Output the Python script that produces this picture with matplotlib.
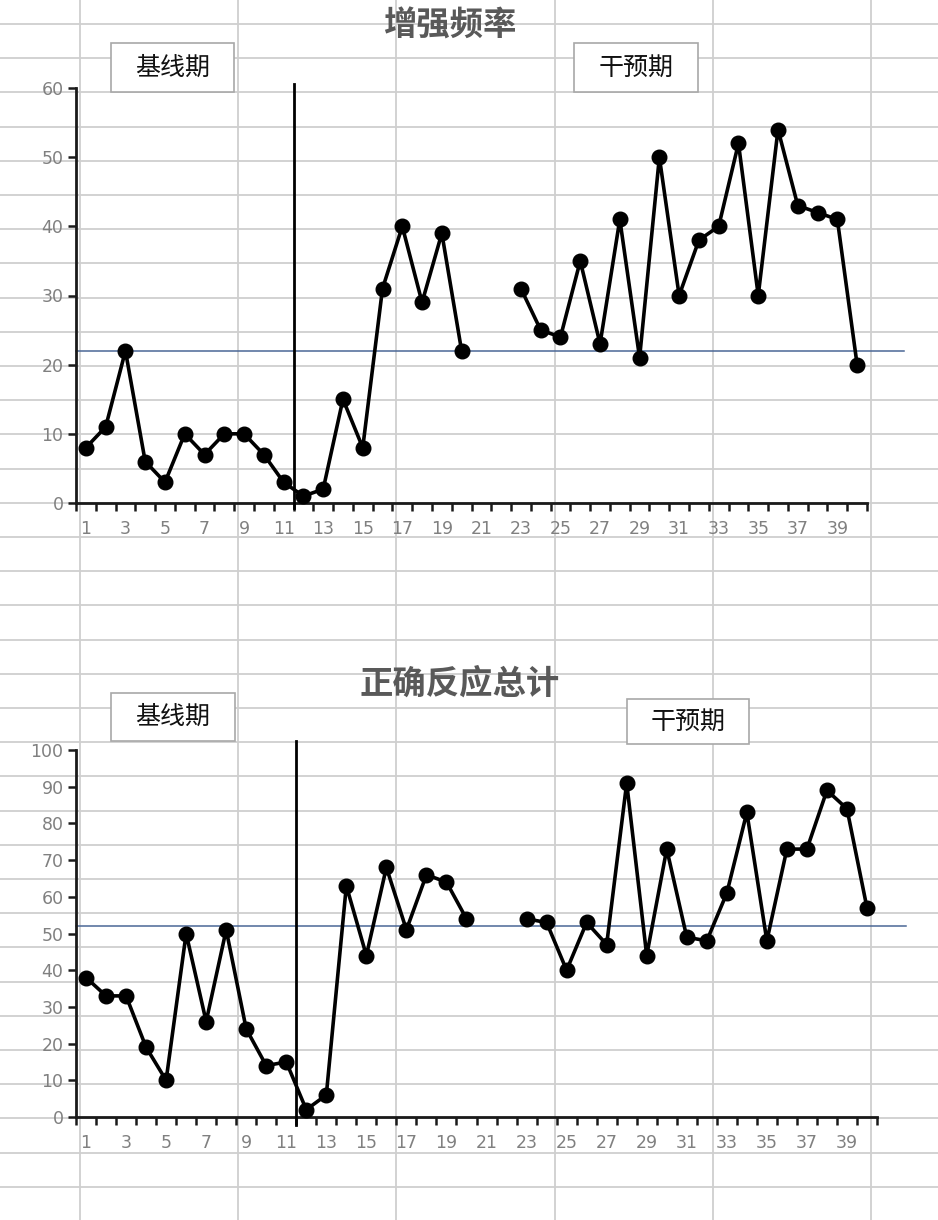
import numpy as np
import matplotlib.pyplot as plt
from matplotlib.patches import Rectangle

plt.rcParams['font.family'] = ['Noto Sans CJK SC', 'DejaVu Sans']

# sessions 1..40, sessions 21-22 missing
sessions = np.arange(1, 41)
freq = [8, 11, 22, 6, 3, 10, 7, 10, 10, 7, 3,
        1, 2, 15, 8, 31, 40, 29, 39, 22, np.nan, np.nan,
        31, 25, 24, 35, 23, 41, 21, 50, 30, 38, 40, 52, 30, 54, 43, 42, 41, 20]
correct = [38, 33, 33, 19, 10, 50, 26, 51, 24, 14, 15,
           2, 6, 63, 44, 68, 51, 66, 64, 54, np.nan, np.nan,
           54, 53, 40, 53, 47, 91, 44, 73, 49, 48, 61, 83, 48, 73, 73, 89, 84, 57]
phase_change = 11.5
freq_level = 22
correct_level = 52

titles = ['增强频率', '正确反应总计']
phase_names = ['基线期', '干预期']

W, H = 938, 1220
fig = plt.figure(figsize=(W / 100, H / 100), dpi=100)

# spreadsheet grid in the background (pixel coords)
bg = fig.add_axes([0, 0, 1, 1])
bg.set_xlim(0, W)
bg.set_ylim(H, 0)
bg.axis('off')
for yy in np.arange(24, H, 34.2):
    bg.axhline(yy, color='#cfcfcf', lw=1.3, zorder=0)
for xx in np.arange(80, W, 158.2):
    bg.axvline(xx, color='#cfcfcf', lw=1.3, zorder=0)


def phase_box(x0, y0, x1, y1, label):
    bg.add_patch(Rectangle((x0, y0), x1 - x0, y1 - y0, facecolor='white',
                           edgecolor='#a8a8a8', lw=1.2, zorder=2))
    bg.text((x0 + x1) / 2, (y0 + y1) / 2, label, ha='center', va='center',
            fontsize=18, color='#111111', zorder=3)


phase_box(111, 43, 234, 92, phase_names[0])
phase_box(574, 43, 698, 92, phase_names[1])
phase_box(111, 693, 235, 741, phase_names[0])
phase_box(627, 699, 749, 744, phase_names[1])

bg.text(450, 26, titles[0], ha='center', va='center', fontsize=24,
        fontweight='bold', color='#595959')
bg.text(460, 684, titles[1], ha='center', va='center', fontsize=24,
        fontweight='bold', color='#595959')

panels = [
    dict(rect=[76 / W, 1 - 503 / H, 791 / W, 415 / H], y=freq, level=freq_level,
         ymax=60, line_top=1.01, line_bot=-0.012, level_end=1.047),
    dict(rect=[76 / W, 1 - 1117 / H, 801 / W, 367 / H], y=correct, level=correct_level,
         ymax=100, line_top=1.025, line_bot=-0.022, level_end=1.036),
]

for p in panels:
    ax = fig.add_axes(p['rect'])
    ax.patch.set_alpha(0)
    ax.set_xlim(0.5, 40.5)
    ax.set_ylim(0, p['ymax'])

    ax.axhline(p['level'], xmin=0, xmax=p['level_end'], color='#4a6796',
               lw=1.1, clip_on=False, zorder=2)
    ax.axvline(phase_change, ymin=p['line_bot'], ymax=p['line_top'],
               color='black', lw=2, clip_on=False, zorder=3)
    ax.plot(sessions, p['y'], color='black', lw=2.6, marker='o',
            markersize=10.5, zorder=4, clip_on=False)

    for s in ['top', 'right']:
        ax.spines[s].set_visible(False)
    for s in ['left', 'bottom']:
        ax.spines[s].set_linewidth(2)
        ax.spines[s].set_color('#1a1a1a')

    ax.set_yticks(np.arange(0, p['ymax'] + 1, 10))
    ax.set_xticks(np.arange(0.5, 41, 1))
    ax.set_xticklabels([])
    ax.set_xticks(np.arange(1, 41, 2), minor=True)
    ax.set_xticklabels([str(v) for v in range(1, 41, 2)], minor=True)
    ax.tick_params(axis='x', which='major', direction='out', length=6,
                   width=1.8, color='#1a1a1a')
    ax.tick_params(axis='x', which='minor', length=0, pad=12,
                   labelsize=12.5, labelcolor='#808080')
    ax.tick_params(axis='y', direction='out', length=6, width=1.8,
                   color='#1a1a1a', labelsize=12.5, labelcolor='#808080', pad=3)
    for lab in ax.get_xticklabels(minor=True) + ax.get_yticklabels():
        lab.set_family('DejaVu Sans')

fig.savefig('out.png', dpi=100)
